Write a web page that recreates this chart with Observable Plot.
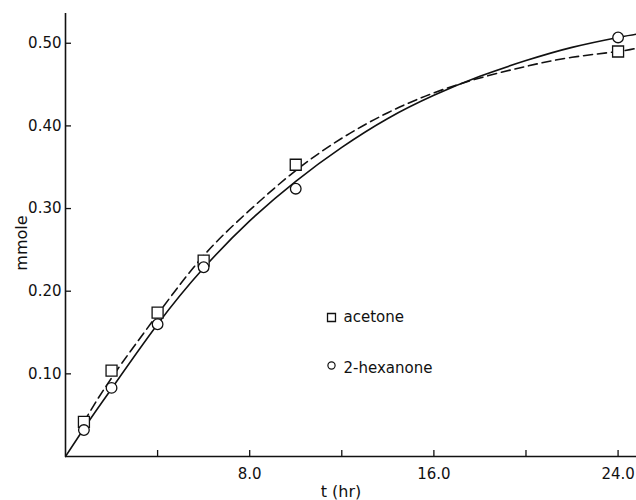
<!DOCTYPE html>
<html>
<head>
<meta charset="utf-8">
<script src="https://cdn.jsdelivr.net/npm/d3@7"></script>
<script src="https://cdn.jsdelivr.net/npm/@observablehq/plot@0.6"></script>
<style>
  html, body { margin: 0; padding: 0; background: #fff; }
  svg { display: block; }
</style>
</head>
<body>
<div id="chart"></div>
<script>
// Measured points
const tPoints = [0.8, 2, 4, 6, 10, 24];
const acetone = [0.042, 0.104, 0.174, 0.237, 0.353, 0.490];
const hexanone = [0.032, 0.083, 0.160, 0.229, 0.324, 0.507];

// Fitted curves
const hexFitT = [0, 1, 2, 4, 6, 8, 10, 12, 14, 16, 18, 20, 22, 24, 24.8];
const hexFitV = [0, 0.042, 0.082, 0.160, 0.228, 0.285, 0.333, 0.374, 0.409, 0.437, 0.460, 0.479, 0.495, 0.507, 0.511];
const aceFitT = [0.8, 2, 4, 6, 8, 10, 12, 14, 16, 18, 20, 22, 24, 24.8];
const aceFitV = [0.042, 0.095, 0.172, 0.243, 0.298, 0.346, 0.385, 0.416, 0.440, 0.458, 0.472, 0.483, 0.490, 0.494];

// Ticks and labels
const xTicksAll = [4, 8, 12, 16, 20, 24];
const xTickLabels = [8, 16, 24];
const yTicks = [0.1, 0.2, 0.3, 0.4, 0.5];
const seriesNames = ["acetone", "2-hexanone"];
const xTitle = "t (hr)";
const yTitle = "mmole";

const acePts = tPoints.map((t, i) => ({t, v: acetone[i]}));
const hexPts = tPoints.map((t, i) => ({t, v: hexanone[i]}));
const hexFit = hexFitT.map((t, i) => ({t, v: hexFitV[i]}));
const aceFit = aceFitT.map((t, i) => ({t, v: aceFitV[i]}));

const font = "DejaVu Sans, sans-serif";

const chart = Plot.plot({
  width: 636,
  height: 500,
  marginLeft: 65,
  marginRight: 0,
  marginTop: 13,
  marginBottom: 44,
  style: {fontFamily: font, fontSize: "14px", color: "#111", background: "#fff"},
  x: {domain: [0, 24.8]},
  y: {domain: [0, 0.536]},
  marks: [
    // axis lines
    Plot.ruleX([0], {stroke: "#111", strokeWidth: 1.6}),
    Plot.ruleY([0], {stroke: "#111", strokeWidth: 1.6}),
    // inward tick marks
    Plot.axisY({ticks: yTicks, tickSize: 6, dx: 6, text: null, label: null, stroke: "#111", strokeWidth: 1.3}),
    Plot.axisX({ticks: xTicksAll, tickSize: 6, dy: -6, text: null, label: null, stroke: "#111", strokeWidth: 1.3}),
    // tick labels
    Plot.axisY({ticks: yTicks, tickSize: 0, tickPadding: 4, tickFormat: d3.format(".2f"), label: null,
      fontSize: 15, style: {letterSpacing: "1px"}}),
    Plot.axisX({ticks: xTickLabels, tickSize: 0, tickPadding: 12, tickFormat: d3.format(".1f"), label: null,
      fontSize: 15}),
    // fitted curves
    Plot.line(aceFit, {x: "t", y: "v", curve: "natural", stroke: "#111", strokeWidth: 1.6, strokeDasharray: "9,5"}),
    Plot.line(hexFit, {x: "t", y: "v", curve: "natural", stroke: "#111", strokeWidth: 1.6}),
    // data points
    Plot.dot(acePts, {x: "t", y: "v", symbol: "square", r: 6.2, stroke: "#111", fill: "#fff", strokeWidth: 1.3}),
    Plot.dot(hexPts, {x: "t", y: "v", symbol: "circle", r: 5.3, stroke: "#111", fill: "#fff", strokeWidth: 1.3}),
    // legend
    Plot.dot([seriesNames[0]], {frameAnchor: "top-left", dx: 266, dy: 304, symbol: "square", r: 4.5, stroke: "#111", fill: "#fff", strokeWidth: 1.3}),
    Plot.dot([seriesNames[1]], {frameAnchor: "top-left", dx: 266, dy: 352, symbol: "circle", r: 3.6, stroke: "#111", fill: "#fff", strokeWidth: 1.2}),
    Plot.text([seriesNames[0]], {text: d => d, frameAnchor: "top-left", dx: 278, dy: 298, textAnchor: "start", fontSize: 15, fill: "#111", style: {letterSpacing: "1.3px"}}),
    Plot.text([seriesNames[1]], {text: d => d, frameAnchor: "top-left", dx: 278, dy: 349, textAnchor: "start", fontSize: 15, fill: "#111", style: {letterSpacing: "0.8px"}}),
    // axis titles
    Plot.text([yTitle], {text: d => d, frameAnchor: "left", textAnchor: "middle", dx: -44, dy: 8, rotate: -90, fontSize: 16, fill: "#111", style: {letterSpacing: "1.5px"}}),
    Plot.text([xTitle], {text: d => d, frameAnchor: "bottom", textAnchor: "middle", dx: -10, dy: 40, fontSize: 16, fill: "#111", style: {letterSpacing: "1.5px"}})
  ]
});
document.getElementById("chart").appendChild(chart);
</script>
</body>
</html>
